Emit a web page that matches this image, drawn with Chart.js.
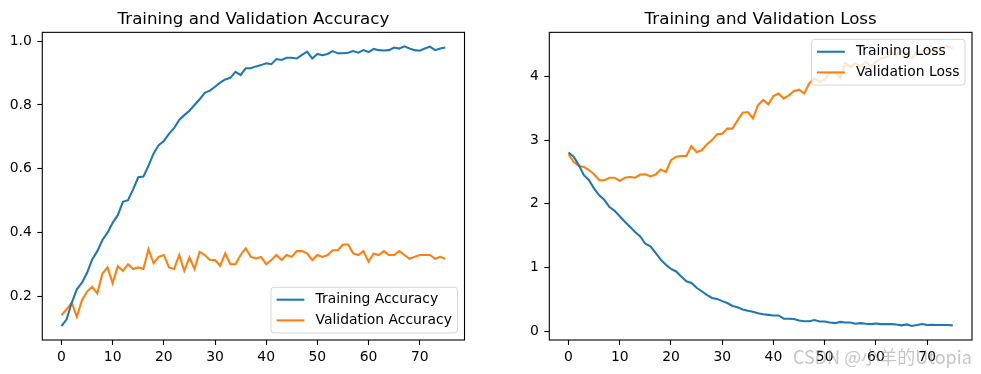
<!DOCTYPE html>
<html>
<head>
<meta charset="utf-8">
<script src="https://cdn.jsdelivr.net/npm/chart.js@4.4.1/dist/chart.umd.min.js"></script>
<style>
  body { margin: 0; background: #fff; width: 981px; height: 374px; overflow: hidden; position: relative; }
  canvas { position: absolute; top: 0; }
  #accChart { left: 0; }
  #lossChart { left: 490px; }
  #mark { position: absolute; left: 793px; top: 343px; line-height: 26px; font: 18px "Noto Sans CJK SC", "DejaVu Sans", sans-serif; color: rgba(150,150,150,0.55); white-space: nowrap; }
</style>
</head>
<body>
<canvas id="accChart" width="490" height="374"></canvas>
<canvas id="lossChart" width="491" height="374"></canvas>
<div id="mark">CSDN @小羊的Utopia</div>
<script>
// epochs 0..75
const epochs = [];
for (let i = 0; i < 76; i++) epochs.push(i);

const trainAcc = [0.106,0.127,0.179,0.221,0.242,0.273,0.315,0.341,0.376,0.399,
  0.430,0.454,0.496,0.501,0.535,0.573,0.575,0.609,0.648,0.674,
  0.687,0.709,0.727,0.753,0.768,0.782,0.800,0.818,0.838,0.845,
  0.857,0.870,0.880,0.885,0.904,0.894,0.915,0.915,0.921,0.925,
  0.931,0.928,0.944,0.941,0.948,0.948,0.946,0.957,0.967,0.946,
  0.960,0.956,0.960,0.969,0.962,0.962,0.964,0.969,0.964,0.972,
  0.966,0.976,0.972,0.971,0.972,0.980,0.977,0.984,0.977,0.972,
  0.970,0.977,0.983,0.972,0.977,0.980];
const valAcc = [0.140,0.158,0.179,0.135,0.187,0.214,0.229,0.208,0.271,0.290,
  0.240,0.294,0.279,0.300,0.285,0.290,0.285,0.347,0.303,0.323,
  0.329,0.290,0.285,0.329,0.279,0.321,0.285,0.339,0.329,0.313,
  0.313,0.295,0.334,0.300,0.300,0.329,0.350,0.323,0.318,0.323,
  0.300,0.313,0.329,0.313,0.329,0.323,0.341,0.341,0.334,0.313,
  0.329,0.323,0.329,0.344,0.344,0.362,0.362,0.334,0.329,0.341,
  0.308,0.334,0.329,0.341,0.329,0.329,0.341,0.329,0.317,0.323,
  0.329,0.329,0.329,0.317,0.323,0.317];
const trainLoss = [2.805,2.74,2.61,2.45,2.37,2.24,2.135,2.06,1.95,1.89,
  1.805,1.72,1.64,1.56,1.49,1.375,1.335,1.23,1.125,1.045,
  0.98,0.94,0.86,0.785,0.76,0.685,0.63,0.575,0.525,0.51,
  0.475,0.445,0.40,0.38,0.345,0.325,0.31,0.285,0.27,0.26,
  0.25,0.25,0.20,0.20,0.195,0.17,0.16,0.16,0.18,0.155,
  0.155,0.14,0.13,0.15,0.14,0.14,0.12,0.13,0.12,0.115,
  0.125,0.115,0.115,0.115,0.11,0.095,0.11,0.085,0.10,0.115,
  0.10,0.105,0.10,0.10,0.10,0.095];
const valLoss = [2.775,2.66,2.595,2.58,2.53,2.465,2.37,2.37,2.41,2.41,
  2.36,2.41,2.42,2.41,2.46,2.465,2.43,2.46,2.54,2.50,
  2.685,2.74,2.75,2.75,2.905,2.81,2.84,2.93,3.00,3.09,
  3.10,3.18,3.18,3.31,3.43,3.44,3.34,3.55,3.63,3.56,
  3.69,3.73,3.65,3.70,3.77,3.79,3.73,3.89,3.97,3.91,
  3.95,4.05,4.07,3.97,4.20,4.15,4.20,4.15,4.23,4.15,
  4.23,4.28,4.30,4.36,4.33,4.39,4.36,4.28,4.39,4.39,
  4.41,4.41,4.44,4.46,4.47,4.44];

const epochTicks = [0, 10, 20, 30, 40, 50, 60, 70];
const accTicks = [0.2, 0.4, 0.6, 0.8, 1.0];
const lossTicks = [0, 1, 2, 3, 4];

const BLUE = '#1f77b4', ORANGE = '#ff7f0e';
const FONT = '"DejaVu Sans", sans-serif';

Chart.defaults.font.family = FONT;
Chart.defaults.font.size = 13.9;
Chart.defaults.color = '#000';

// matplotlib style box around the axes + legend inside the axes
const mplFrame = {
  id: 'mplFrame',
  afterDraw(chart, args, opts) {
    const ctx = chart.ctx, a = chart.chartArea;
    ctx.save();
    ctx.strokeStyle = '#000';
    ctx.lineWidth = 1.1;
    ctx.strokeRect(a.left, a.top, a.right - a.left, a.bottom - a.top);

    const ds = chart.data.datasets;
    ctx.font = '13.9px ' + FONT;
    let tw = 0;
    ds.forEach(d => { tw = Math.max(tw, ctx.measureText(d.label).width); });
    const w = 5.6 + 27.8 + 11.1 + tw + 5.6, h = 45.7;
    const x = a.right - 7 - w;
    const y = opts.loc === 'lower right' ? a.bottom - 7 - h : a.top + 7;

    ctx.beginPath();
    ctx.roundRect(x, y, w, h, 3);
    ctx.fillStyle = 'rgba(255,255,255,0.8)';
    ctx.fill();
    ctx.strokeStyle = 'rgba(204,204,204,0.8)';
    ctx.lineWidth = 1;
    ctx.stroke();

    ds.forEach((d, i) => {
      const cy = y + 12.4 + i * 20.7;
      ctx.beginPath();
      ctx.moveTo(x + 5.6, cy);
      ctx.lineTo(x + 33.4, cy);
      ctx.strokeStyle = d.borderColor;
      ctx.lineWidth = 2.08;
      ctx.stroke();
      ctx.fillStyle = '#000';
      ctx.textBaseline = 'middle';
      ctx.textAlign = 'left';
      ctx.fillText(d.label, x + 44.5, cy);
    });
    ctx.restore();
  }
};

function limits(a, b) {
  const lo = Math.min(...a, ...b), hi = Math.max(...a, ...b);
  const m = (hi - lo) * 0.05;
  return [lo - m, hi + m];
}

function makeChart(id, title, s1, s2, names, yTicks, fmt, loc, yWidth, padRight) {
  const lim = limits(s1, s2);
  return new Chart(document.getElementById(id), {
    type: 'line',
    data: {
      datasets: [
        { label: names[0], data: epochs.map((e, i) => ({ x: e, y: s1[i] })), borderColor: BLUE, backgroundColor: BLUE },
        { label: names[1], data: epochs.map((e, i) => ({ x: e, y: s2[i] })), borderColor: ORANGE, backgroundColor: ORANGE }
      ]
    },
    options: {
      responsive: false,
      animation: false,
      devicePixelRatio: 1,
      layout: { padding: { left: 0, right: padRight, top: 0, bottom: 0 } },
      elements: { point: { radius: 0 }, line: { borderWidth: 2.08, tension: 0 } },
      scales: {
        x: {
          type: 'linear',
          min: -3.75,
          max: 78.75,
          afterFit: s => { s.height = 34; },
          afterBuildTicks: s => { s.ticks = epochTicks.map(v => ({ value: v })); },
          grid: { drawOnChartArea: false, drawTicks: true, tickLength: 5, tickColor: '#000', tickWidth: 1.1 },
          border: { display: false },
          ticks: { padding: 4, maxRotation: 0, autoSkip: false, callback: v => String(v) }
        },
        y: {
          min: lim[0],
          max: lim[1],
          afterFit: s => { s.width = yWidth; },
          afterBuildTicks: s => { s.ticks = yTicks.map(v => ({ value: v })); },
          grid: { drawOnChartArea: false, drawTicks: true, tickLength: 5, tickColor: '#000', tickWidth: 1.1 },
          border: { display: false },
          ticks: { padding: 5.5, autoSkip: false, callback: fmt }
        }
      },
      plugins: {
        legend: { display: false },
        tooltip: { enabled: false },
        title: {
          display: true,
          text: title,
          fullSize: false,
          color: '#000',
          font: { size: 16.7, weight: 'normal', family: FONT },
          padding: { top: 10, bottom: 2.3 }
        },
        mplFrame: { loc: loc }
      }
    },
    plugins: [mplFrame]
  });
}

makeChart('accChart', 'Training and Validation Accuracy', trainAcc, valAcc,
  ['Training Accuracy', 'Validation Accuracy'], accTicks, v => v.toFixed(1), 'lower right', 42.3, 25.5);
makeChart('lossChart', 'Training and Validation Loss', trainLoss, valLoss,
  ['Training Loss', 'Validation Loss'], lossTicks, v => String(v), 'upper right', 59.3, 9);
</script>
</body>
</html>
